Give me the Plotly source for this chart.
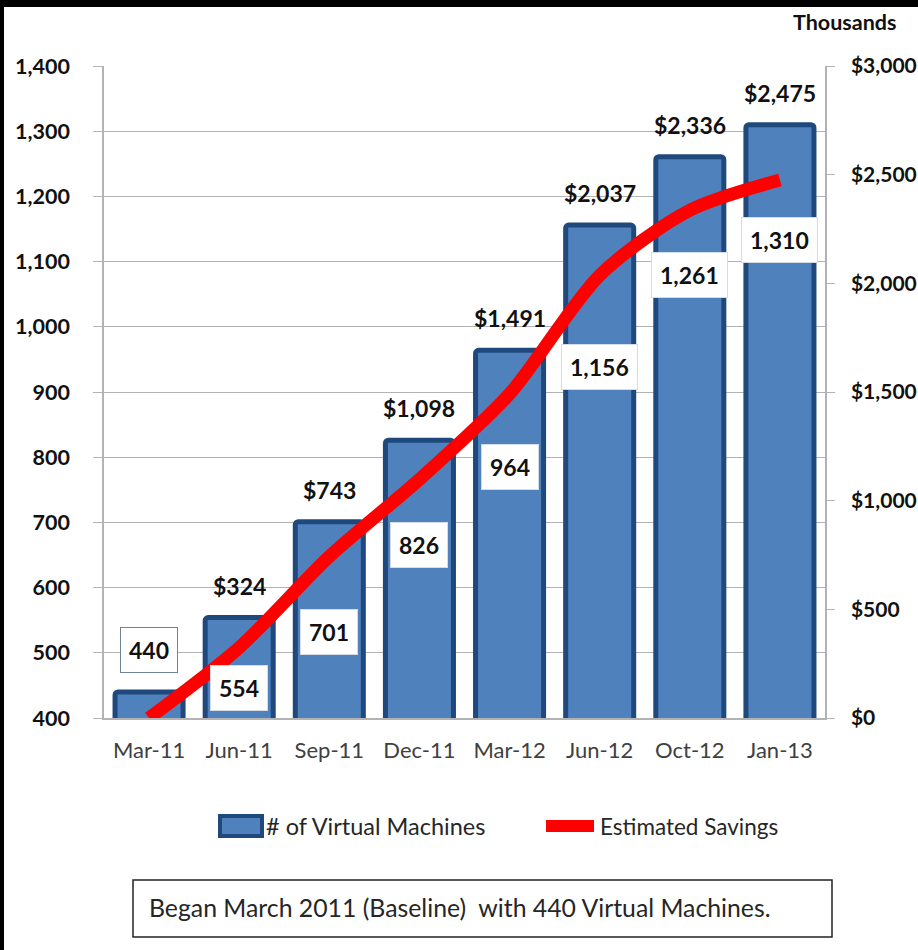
import plotly.graph_objects as go

# Quarterly snapshots
periods = ["Mar-11", "Jun-11", "Sep-11", "Dec-11", "Mar-12", "Jun-12", "Oct-12", "Jan-13"]
virtual_machines = [440, 554, 701, 826, 964, 1156, 1261, 1310]
savings_thousands = [0, 324, 743, 1098, 1491, 2037, 2336, 2475]

# Where each VM count label box sits (in VM-axis units), set to clear the savings line
vm_label_y = [504, 446, 532, 665, 785, 938, 1079, 1133]

FONT = "Lato"
BAR_FILL = "#4F81BD"
BAR_EDGE = "#1F497D"
LINE_RED = "#FF0000"
GRID = "#B3B3B3"

# Plot-area pixel box inside the 918 x 950 page
W, H = 918, 950
PX_L, PX_R, PX_T, PX_B = 104, 825, 66, 718


def px2x(p):
    return (p - PX_L) / (PX_R - PX_L)


def py2y(p):
    return (PX_B - p) / (PX_B - PX_T)


fig = go.Figure()

fig.add_trace(go.Bar(
    x=periods,
    y=virtual_machines,
    name="# of Virtual Machines",
    marker=dict(color=BAR_FILL, line=dict(color=BAR_EDGE, width=5), cornerradius=3),
    showlegend=False,
    hoverinfo="skip",
))

fig.add_trace(go.Scatter(
    x=periods,
    y=savings_thousands,
    name="Estimated Savings",
    yaxis="y2",
    mode="lines",
    line=dict(color=LINE_RED, width=13, shape="spline", smoothing=0.8),
    showlegend=False,
    hoverinfo="skip",
))

annotations = []

# VM count labels in white boxes
for i, (p, v, ly) in enumerate(zip(periods, virtual_machines, vm_label_y)):
    annotations.append(dict(
        x=p, y=ly, xref="x", yref="y",
        text=f"<b>{v:,}</b>", showarrow=False,
        font=dict(family=FONT, size=23, color="#111111"),
        bgcolor="white",
        bordercolor="#6F8296" if i == 0 else "#D5DCE6",
        borderwidth=1, borderpad=8,
    ))

# Savings labels above each bar
for p, v, s in zip(periods, virtual_machines, savings_thousands):
    if s <= 0:
        continue
    annotations.append(dict(
        x=p, y=v, xref="x", yref="y", yshift=32,
        text=f"<b>${s:,}</b>", showarrow=False,
        font=dict(family=FONT, size=23, color="#111111"),
    ))

# Display-unit caption for the right axis
annotations.append(dict(
    x=px2x(844), y=py2y(22), xref="paper", yref="paper",
    xanchor="center", yanchor="middle",
    text="<b>Thousands</b>", showarrow=False,
    font=dict(family=FONT, size=21.5, color="#111111"),
))

# Legend entries
annotations.append(dict(
    x=px2x(264), y=py2y(826), xref="paper", yref="paper",
    xanchor="left", yanchor="middle",
    text="# of Virtual Machines", showarrow=False,
    font=dict(family=FONT, size=23.5, color="#262626"),
))
annotations.append(dict(
    x=px2x(598), y=py2y(826), xref="paper", yref="paper",
    xanchor="left", yanchor="middle",
    text="Estimated Savings", showarrow=False,
    font=dict(family=FONT, size=22.5, color="#262626"),
))

# Footnote
annotations.append(dict(
    x=px2x(147), y=py2y(908), xref="paper", yref="paper",
    xanchor="left", yanchor="middle",
    text="Began March 2011 (Baseline)  with 440 Virtual Machines.", showarrow=False,
    font=dict(family=FONT, size=24.8, color="#262626"),
))

shapes = [
    # legend swatches
    dict(type="rect", xref="paper", yref="paper",
         x0=px2x(220), x1=px2x(262), y0=py2y(836), y1=py2y(816),
         fillcolor=BAR_FILL, line=dict(color=BAR_EDGE, width=4)),
    dict(type="line", xref="paper", yref="paper",
         x0=px2x(546), x1=px2x(594), y0=py2y(826), y1=py2y(826),
         line=dict(color=LINE_RED, width=12)),
    # footnote frame
    dict(type="rect", xref="paper", yref="paper",
         x0=px2x(133), x1=px2x(832), y0=py2y(937), y1=py2y(880),
         fillcolor="rgba(0,0,0,0)", line=dict(color="#222222", width=1.5)),
    # dark page edges
    dict(type="rect", xref="paper", yref="paper",
         x0=px2x(0), x1=px2x(W), y0=py2y(7), y1=py2y(0),
         fillcolor="black", line=dict(width=0)),
    dict(type="rect", xref="paper", yref="paper",
         x0=px2x(0), x1=px2x(4), y0=py2y(H), y1=py2y(0),
         fillcolor="black", line=dict(width=0)),
]

fig.update_layout(
    width=W, height=H, autosize=False,
    margin=dict(l=PX_L, r=W - PX_R, t=PX_T, b=H - PX_B, pad=0, autoexpand=False),
    paper_bgcolor="white",
    plot_bgcolor="white",
    bargap=0.245,
    font=dict(family=FONT, color="#111111"),
    xaxis=dict(
        type="category", automargin=False,
        showline=True, linecolor=GRID, linewidth=1.5,
        ticks="", showgrid=False,
        tickfont=dict(family=FONT, size=22, color="#404040"),
        ticklabelstandoff=12,
    ),
    yaxis=dict(
        range=[400, 1400], dtick=100, tickformat=",", automargin=False,
        showline=True, linecolor=GRID, linewidth=1.5,
        showgrid=True, gridcolor=GRID, gridwidth=1.2,
        ticks="outside", ticklen=9, tickcolor=GRID,
        tickfont=dict(family=FONT, size=21.5, color="#111111"),
        tickprefix="<b>", ticksuffix="</b>",
        ticklabelstandoff=19,
        zeroline=False,
    ),
    yaxis2=dict(
        range=[0, 3000], dtick=500, tickformat=",", automargin=False,
        overlaying="y", side="right",
        showline=True, linecolor=GRID, linewidth=1.5,
        showgrid=False, zeroline=False,
        ticks="outside", ticklen=8, tickcolor=GRID,
        tickfont=dict(family=FONT, size=21, color="#111111"),
        tickprefix="<b>$", ticksuffix="</b>",
        ticklabelstandoff=12,
    ),
    annotations=annotations,
    shapes=shapes,
)

fig.write_html("out.html")
